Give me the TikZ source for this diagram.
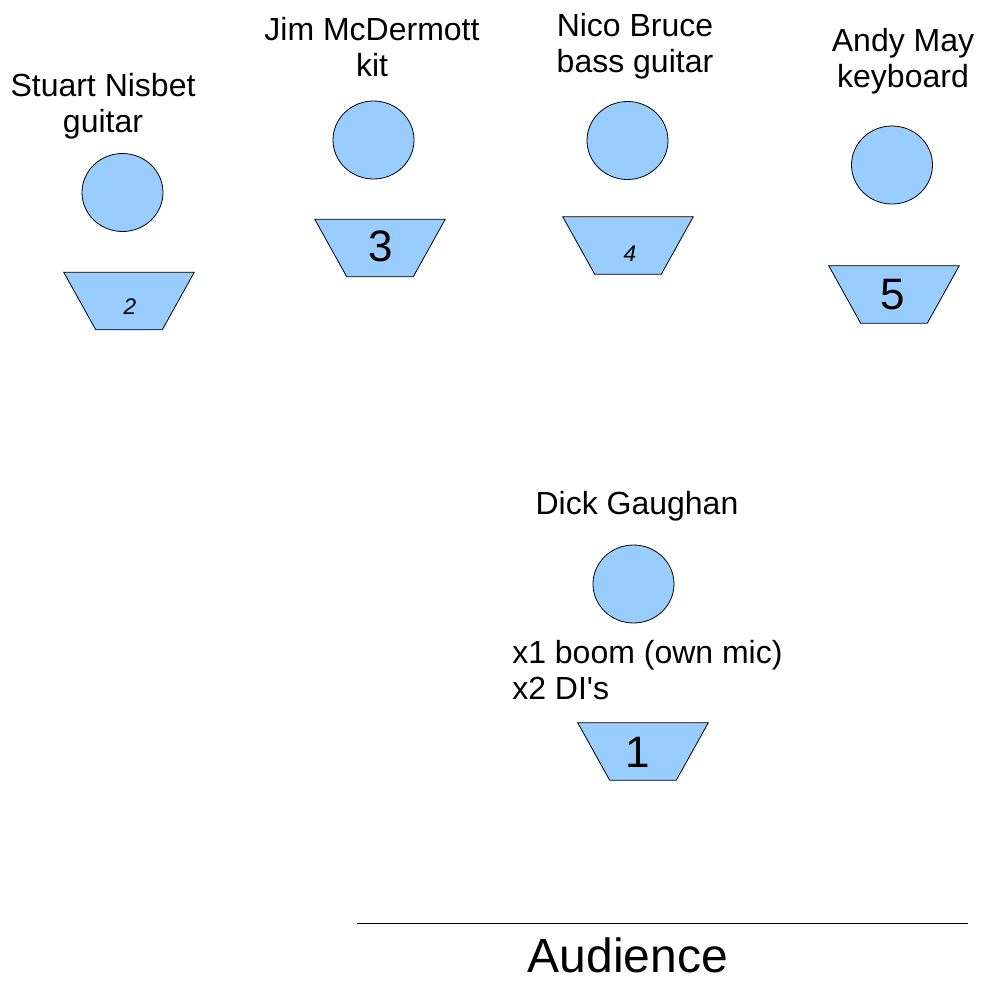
\documentclass[tikz,border=0pt]{standalone}
\usepackage{fontspec}
\setmainfont{Liberation Sans}[Ligatures=TeXOff]
\usetikzlibrary{shapes.geometric}

\definecolor{stagefill}{HTML}{99CCFF}

\begin{document}
\begin{tikzpicture}[x=0.75pt,y=-0.75pt,
	head/.style={ellipse, draw, fill=stagefill, line width=0.6pt, minimum width=60.75pt, minimum height=58.5pt, inner sep=0pt},
	wedge/.style={rectangle, minimum width=97.5pt, minimum height=42.75pt, inner sep=0pt},
	who/.style={align=center, font=\fontsize{24}{27}\selectfont, inner sep=0pt},
	bignum/.style={font=\fontsize{33}{40}\selectfont},
	smallnum/.style={font=\fontsize{17}{20}\selectfont\itshape}]
		\useasboundingbox (0,0) rectangle (983,982);
		
		% back line
		\node[who] (stuartname) at (103,106) {Stuart Nisbet\\guitar};
		\node[head] (stuart) at (122.5,192.5) {};
		\node[wedge] (mon2) at (129,301) {};
		
		\node[who] (jimname) at (372,47) {Jim McDermott\\kit};
		\node[head] (jim) at (373.5,140) {};
		\node[wedge] (mon3) at (380,248) {};
		
		\node[who] (niconame) at (635,46) {Nico Bruce\\bass guitar};
		\node[head] (nico) at (627.5,140.5) {};
		\node[wedge] (mon4) at (628,245.5) {};
		
		\node[who] (andyname) at (903,61) {Andy May\\keyboard};
		\node[head] (andy) at (892,165) {};
		\node[wedge] (mon5) at (894,294.5) {};
		
		% front
		\node[who] (dickname) at (637,506) {Dick Gaughan};
		\node[head] (dick) at (633.5,584) {};
		\node[who, align=left, anchor=west] (dicknotes) at (512,670) {x1 boom (own mic)\\x2 DI's};
		\node[wedge] (mon1) at (643,751.5) {};
		
		% monitor wedges
		\foreach \m in {mon1,mon2,mon3,mon4,mon5}
			\filldraw[fill=stagefill, line width=0.6pt] (\m.north west) -- (\m.north east) -- ([xshift=-24pt]\m.south east) -- ([xshift=24pt]\m.south west) -- cycle;
		\node[bignum] at (638,752) {1};
		\node[smallnum] at (130,307) {2};
		\node[bignum] at (381,246) {3};
		\node[smallnum] at (630,254) {4};
		\node[bignum] at (893,295) {5};
		
		\coordinate (edgeL) at (357,923);
		\coordinate (edgeR) at (968,923);
		\draw[line width=0.75pt] (edgeL) -- (edgeR);
		\node[font=\fontsize{36}{43}\selectfont, inner sep=0pt] (audience) at (628,955) {Audience};
	
	\end{tikzpicture}
\end{document}
